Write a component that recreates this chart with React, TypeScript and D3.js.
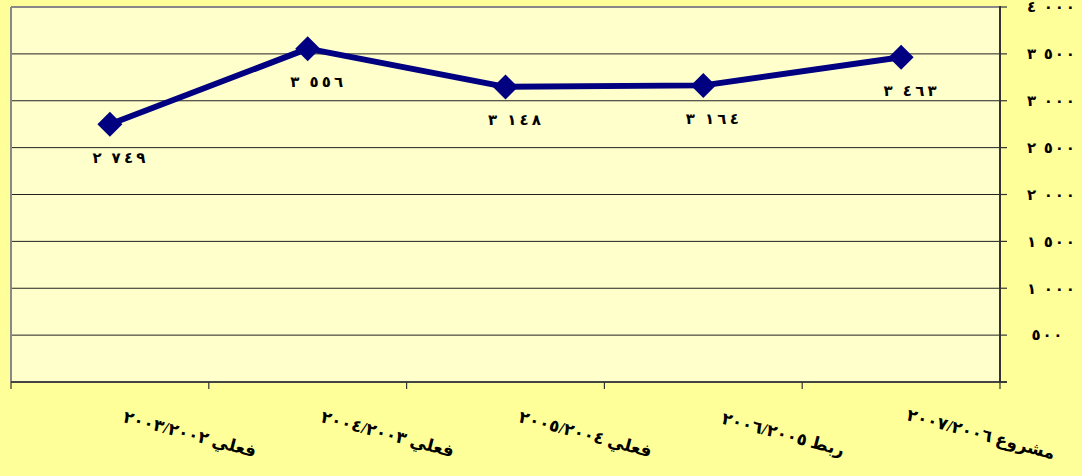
import React from "react";
import * as d3 from "d3";

const categories = [
  "فعلي ٢٠٠٣/٢٠٠٢",
  "فعلي ٢٠٠٤/٢٠٠٣",
  "فعلي ٢٠٠٥/٢٠٠٤",
  "ربط ٢٠٠٦/٢٠٠٥",
  "مشروع ٢٠٠٧/٢٠٠٦",
];
const values = [2749, 3556, 3148, 3164, 3463];
const yTicks = [0, 500, 1000, 1500, 2000, 2500, 3000, 3500, 4000];

const W = 1082;
const H = 476;
const plot = { left: 11, right: 1000, top: 7, bottom: 382 };

const arabicDigits = "٠١٢٣٤٥٦٧٨٩";
function toArabic(n: number): string {
  const s = String(n);
  const withSep = s.length > 3 ? s.slice(0, s.length - 3) + "\u00A0" + s.slice(s.length - 3) : s;
  return withSep.replace(/[0-9]/g, (d) => arabicDigits[+d]);
}

const FONT = "'Times New Roman', 'DejaVu Serif', 'DejaVu Sans', serif";

export default function App() {
  const x = d3.scaleBand<string>().domain(categories).range([plot.left, plot.right]).padding(0);
  const y = d3.scaleLinear().domain([0, 4000]).range([plot.bottom, plot.top]);
  const cx = (c: string) => (x(c) as number) + x.bandwidth() / 2;
  const pts: [number, number][] = categories.map((c, i) => [cx(c), y(values[i])]);
  const line = d3.line<[number, number]>()(pts) as string;
  const bounds = [...categories.map((c) => x(c) as number), plot.right];
  const ds = 12.5;

  return (
    <svg
      width={W}
      height={H}
      style={{ position: "absolute", left: 0, top: 0, display: "block" }}
      fontFamily={FONT}
    >
      <rect x={0} y={0} width={W} height={H} fill="#FFFF99" />
      <rect
        x={plot.left}
        y={plot.top}
        width={plot.right - plot.left}
        height={plot.bottom - plot.top}
        fill="#FFFFCC"
      />
      {yTicks.slice(1).map((t) => (
        <line key={t} x1={plot.left} x2={plot.right} y1={y(t)} y2={y(t)} stroke="#222" strokeWidth={1} />
      ))}
      <line x1={plot.left} x2={plot.left} y1={plot.top} y2={plot.bottom} stroke="#888" strokeWidth={2} />
      <line x1={plot.left} x2={plot.right} y1={plot.top} y2={plot.top} stroke="#888" strokeWidth={2} />
      <line x1={plot.left} x2={plot.right + 7} y1={plot.bottom} y2={plot.bottom} stroke="#444" strokeWidth={2} />
      {bounds.map((b, i) => (
        <line key={i} x1={b} x2={b} y1={plot.bottom} y2={plot.bottom + 7} stroke="#333" strokeWidth={1.2} />
      ))}
      <line x1={plot.right} x2={plot.right} y1={plot.top - 1} y2={plot.bottom + 1} stroke="#333" strokeWidth={2} />
      {yTicks.map((t) => (
        <line key={t} x1={plot.right} x2={plot.right + 7} y1={y(t)} y2={y(t)} stroke="#333" strokeWidth={1.2} />
      ))}
      {yTicks.slice(1).map((t) => (
        <text
          key={t}
          x={t >= 1000 ? 1051 : 1047}
          y={y(t)}
          dy="0.35em"
          textAnchor="middle"
          fontSize={15}
          fontWeight="bold"
          textLength={t >= 1000 ? 48 : 31}
          lengthAdjust="spacing"
          fill="#000"
        >
          {toArabic(t)}
        </text>
      ))}
      <path d={line} fill="none" stroke="#000080" strokeWidth={6} strokeLinejoin="round" />
      {pts.map(([px, py], i) => (
        <path
          key={i}
          d={`M${px},${py - ds}L${px + ds},${py}L${px},${py + ds}L${px - ds},${py}Z`}
          fill="#000080"
        />
      ))}
      {pts.map(([px, py], i) => (
        <text
          key={i}
          x={px + 9}
          y={py + 33}
          dy="0.35em"
          textAnchor="middle"
          fontSize={15}
          fontWeight="bold"
          textLength={53}
          lengthAdjust="spacing"
          fill="#000"
        >
          {toArabic(values[i])}
        </text>
      ))}
      {categories.map((c, i) => {
        const lx = cx(c) + 80;
        const ly = 434;
        return (
          <text
            key={i}
            x={lx}
            y={ly}
            dy="0.35em"
            textAnchor="middle"
            fontSize={17}
            fontWeight="bold"
            fill="#000"
            transform={`rotate(15, ${lx}, ${ly})`}
          >
            {c}
          </text>
        );
      })}
    </svg>
  );
}
